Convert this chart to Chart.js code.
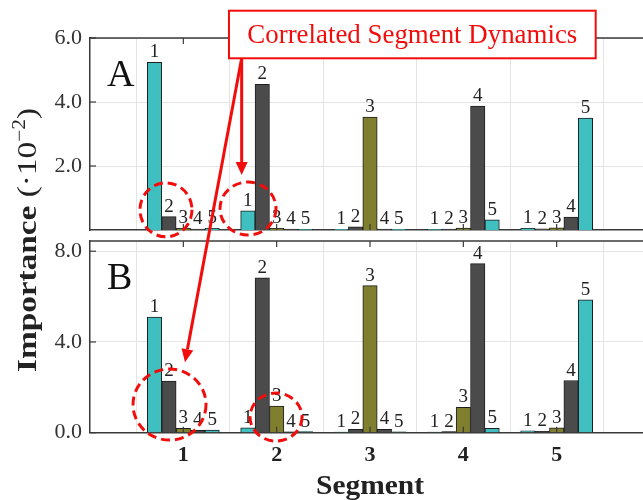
<!DOCTYPE html>
<html><head><meta charset="utf-8">
<script src="https://cdn.jsdelivr.net/npm/chart.js@4.4.0/dist/chart.umd.min.js"></script>
<style>
html,body{margin:0;padding:0;overflow:hidden;background:#fff;width:643px;height:500px;}
#wrap{position:relative;width:643px;height:500px;overflow:hidden;background:#fff;}
canvas{position:absolute;left:0;top:0;}
</style></head><body>
<div id="wrap"><canvas id="cB" width="660" height="500"></canvas><canvas id="cA" width="660" height="500"></canvas></div>
<script>
// ---- data ----
const segments = [1, 2, 3, 4, 5];
const barLabels = ['1', '2', '3', '4', '5'];
// Panel A (importance ·10^-2), one array per bar index, values per segment
const panelA_bar1 = [5.24, 0.60, 0.02, 0.02, 0.05];
const panelA_bar2 = [0.42, 4.55, 0.10, 0.03, 0.04];
const panelA_bar3 = [0.05, 0.05, 3.53, 0.06, 0.07];
const panelA_bar4 = [0.03, 0.03, 0.03, 3.875, 0.40];
const panelA_bar5 = [0.05, 0.02, 0.02, 0.32, 3.50];
// Panel B
const panelB_bar1 = [5.10, 0.22, 0.03, 0.03, 0.08];
const panelB_bar2 = [2.27, 6.83, 0.15, 0.05, 0.06];
const panelB_bar3 = [0.19, 1.17, 6.48, 1.12, 0.22];
const panelB_bar4 = [0.10, 0.04, 0.15, 7.45, 2.30];
const panelB_bar5 = [0.12, 0.05, 0.04, 0.19, 5.86];
const yTicksA = [2, 4, 6];
const yTicksB = [0, 4, 8];
const xTicks = [0, 1, 2, 3, 4, 5, 6];
const annotationText = 'Correlated Segment Dynamics';
const xTitle = 'Segment';

// ---- styles ----
const SERIF = '"Liberation Serif", "Times New Roman", serif';
Chart.defaults.font.family = SERIF;
const TEAL = '#3fbfbf', DARK = '#4b4b4b', OLIVE = '#7f7f2f';
const barColors = [TEAL, DARK, OLIVE, DARK, TEAL];
const RED = '#f20d0d';

function makeDatasets(series) {
  return series.map((vals, k) => ({
    label: barLabels[k],
    data: segments.map((s, i) => ({ x: s, y: vals[i] })),
    backgroundColor: barColors[k],
    borderColor: '#1e1e1e',
    borderWidth: 1,
    barThickness: 14.4,
    grouped: true
  }));
}

function makeScales(ymax, yTicks, showX, bottomH) {
  return {
    x: {
      type: 'linear', min: 0, max: 6, offset: false,
      afterBuildTicks: s => { s.ticks = xTicks.map(v => ({ value: v })); },
      ticks: { display: showX, autoSkip: false, maxRotation: 0,
        callback: v => segments.includes(v) ? String(v) : '',
        font: { size: 22, weight: 'bold' }, color: '#222', padding: 9 },
      grid: { color: '#e4e4e4', lineWidth: 1, drawTicks: false },
      border: { color: '#3a3a3a', width: 1.5 },
      afterFit: s => { s.height = bottomH; }
    },
    y: {
      min: 0, max: ymax,
      afterBuildTicks: s => { s.ticks = yTicks.map(v => ({ value: v })); },
      ticks: { callback: v => Number(v).toFixed(1), font: { size: 22 }, color: '#333', padding: 8 },
      grid: { color: '#e4e4e4', lineWidth: 1, drawTicks: false },
      border: { color: '#3a3a3a', width: 1.5 },
      afterFit: s => { s.width = 90; }
    }
  };
}

function line(ctx, x1, y1, x2, y2) { ctx.beginPath(); ctx.moveTo(x1, y1); ctx.lineTo(x2, y2); ctx.stroke(); }

function panelPlugin(letter) {
  return {
    id: 'panel' + letter,
    afterDatasetsDraw(chart) {
      const ctx = chart.ctx, a = chart.chartArea, xs = chart.scales.x, ys = chart.scales.y;
      ctx.save();
      ctx.strokeStyle = '#3a3a3a';
      ctx.lineWidth = 1.2;
      segments.forEach(s => {
        const px = xs.getPixelForValue(s);
        line(ctx, px, a.top, px, a.top + 6);
        line(ctx, px, a.bottom, px, a.bottom - 6);
      });
      ys.ticks.forEach(t => { const py = ys.getPixelForValue(t.value); line(ctx, a.left, py, a.left + 6, py); });
      ctx.lineWidth = 1.5;
      line(ctx, a.left, a.top, a.right, a.top);
      line(ctx, a.right, a.top, a.right, a.bottom);
      // bar labels
      ctx.fillStyle = '#222';
      ctx.font = '19px ' + SERIF;
      ctx.textAlign = 'center';
      ctx.textBaseline = 'alphabetic';
      chart.data.datasets.forEach((ds, i) => {
        chart.getDatasetMeta(i).data.forEach(el => ctx.fillText(barLabels[i], el.x, el.y - 5));
      });
      // panel letter
      ctx.fillStyle = '#111';
      ctx.font = '38px ' + SERIF;
      ctx.textAlign = 'left';
      ctx.fillText(letter, a.left + 17, a.top + 48);
      ctx.restore();
    }
  };
}

function fitText(ctx, text, cx, cy, width) {
  const w = ctx.measureText(text).width;
  ctx.save();
  ctx.translate(cx, cy);
  ctx.scale(width / w, 1);
  ctx.textAlign = 'center';
  ctx.fillText(text, 0, 0);
  ctx.restore();
}

const xTitlePlugin = {
  id: 'xtitle',
  afterDraw(chart) {
    const ctx = chart.ctx, a = chart.chartArea;
    ctx.save();
    ctx.fillStyle = '#222';
    ctx.font = 'bold 28px ' + SERIF;
    ctx.textBaseline = 'alphabetic';
    fitText(ctx, xTitle, (a.left + a.right) / 2, 494, 108);
    ctx.restore();
  }
};

// annotation geometry (data units of each panel)
const circlesA = [{ x: 0.814, y: 0.63, rx: 26, ry: 27 }, { x: 1.693, y: 0.67, rx: 28, ry: 26.5 }];
const circlesB = [{ x: 0.852, y: 1.24, rx: 36.5, ry: 35.5 }, { x: 1.993, y: 0.69, rx: 26, ry: 24 }];
const boxA = { x1: 1.489, x2: 5.418, y1: 6.853, y2: 5.366 };
const arrowStartA = { x: 1.625, y: 5.366 };
const arrowTipA = { x: 1.625, y: 1.72 };
const arrowTipB = { x: 1.018, y: 3.11 };

let chartB;

function arrow(ctx, x1, y1, x2, y2) {
  const ang = Math.atan2(y2 - y1, x2 - x1), L = 13, H = 6;
  const bx = x2 - L * Math.cos(ang), by = y2 - L * Math.sin(ang);
  ctx.beginPath(); ctx.moveTo(x1, y1); ctx.lineTo(bx, by); ctx.stroke();
  ctx.beginPath();
  ctx.moveTo(x2, y2);
  ctx.lineTo(bx + H * Math.sin(ang), by - H * Math.cos(ang));
  ctx.lineTo(bx - H * Math.sin(ang), by + H * Math.cos(ang));
  ctx.closePath(); ctx.fill();
}

const annotPlugin = {
  id: 'annot',
  afterDraw(chart) {
    const ctx = chart.ctx, xa = chart.scales.x, ya = chart.scales.y;
    const xb = chartB.scales.x, yb = chartB.scales.y;
    ctx.save();
    // y title
    ctx.save();
    ctx.translate(36, 240);
    ctx.rotate(-Math.PI / 2);
    const parts = [
      { t: 'Importance', f: 'bold 28px ' + SERIF, dy: 0 },
      { t: ' (\u00b710', f: '28px ' + SERIF, dy: 0 },
      { t: '\u22122', f: '18px ' + SERIF, dy: -11 },
      { t: ')', f: '28px ' + SERIF, dy: 0 }
    ];
    let tw = 0;
    parts.forEach(p => { ctx.font = p.f; p.w = ctx.measureText(p.t).width; tw += p.w; });
    ctx.scale(264 / tw, 1);
    let cx = -tw / 2;
    ctx.fillStyle = '#222';
    ctx.textBaseline = 'alphabetic';
    ctx.textAlign = 'left';
    parts.forEach(p => { ctx.font = p.f; ctx.fillText(p.t, cx, p.dy); cx += p.w; });
    ctx.restore();

    // dashed circles
    ctx.strokeStyle = RED; ctx.fillStyle = RED;
    ctx.lineWidth = 3;
    ctx.setLineDash([9, 5]);
    circlesA.forEach(c => { ctx.beginPath(); ctx.ellipse(xa.getPixelForValue(c.x), ya.getPixelForValue(c.y), c.rx, c.ry, 0, 0, Math.PI * 2); ctx.stroke(); });
    circlesB.forEach(c => { ctx.beginPath(); ctx.ellipse(xb.getPixelForValue(c.x), yb.getPixelForValue(c.y), c.rx, c.ry, 0, 0, Math.PI * 2); ctx.stroke(); });
    ctx.setLineDash([]);
    // arrows
    const ox = xa.getPixelForValue(arrowStartA.x), oy = ya.getPixelForValue(arrowStartA.y);
    arrow(ctx, ox, oy, xa.getPixelForValue(arrowTipA.x), ya.getPixelForValue(arrowTipA.y));
    arrow(ctx, ox, oy, xb.getPixelForValue(arrowTipB.x), yb.getPixelForValue(arrowTipB.y));
    // box
    const bx1 = xa.getPixelForValue(boxA.x1), bx2 = xa.getPixelForValue(boxA.x2);
    const by1 = ya.getPixelForValue(boxA.y1), by2 = ya.getPixelForValue(boxA.y2);
    ctx.fillStyle = '#fff';
    ctx.fillRect(bx1, by1, bx2 - bx1, by2 - by1);
    ctx.lineWidth = 2;
    ctx.strokeStyle = RED;
    ctx.strokeRect(bx1, by1, bx2 - bx1, by2 - by1);
    ctx.fillStyle = RED;
    ctx.font = '27px ' + SERIF;
    ctx.textBaseline = 'middle';
    fitText(ctx, annotationText, (bx1 + bx2) / 2, (by1 + by2) / 2 + 1, 330);
    ctx.restore();
  }
};

const baseOpts = (padTop) => ({
  responsive: false, animation: false,
  layout: { padding: { top: padTop, left: 0, right: 10, bottom: 0 } },
  plugins: { legend: { display: false }, tooltip: { enabled: false } }
});

chartB = new Chart(document.getElementById('cB'), {
  type: 'bar',
  data: { datasets: makeDatasets([panelB_bar1, panelB_bar2, panelB_bar3, panelB_bar4, panelB_bar5]) },
  options: Object.assign(baseOpts(241), { scales: makeScales(8.45, yTicksB, true, 67.3) }),
  plugins: [panelPlugin('B'), xTitlePlugin]
});

const chartA = new Chart(document.getElementById('cA'), {
  type: 'bar',
  data: { datasets: makeDatasets([panelA_bar1, panelA_bar2, panelA_bar3, panelA_bar4, panelA_bar5]) },
  options: Object.assign(baseOpts(38), { scales: makeScales(6, yTicksA, false, 270) }),
  plugins: [panelPlugin('A'), annotPlugin]
});
</script>
</body></html>
